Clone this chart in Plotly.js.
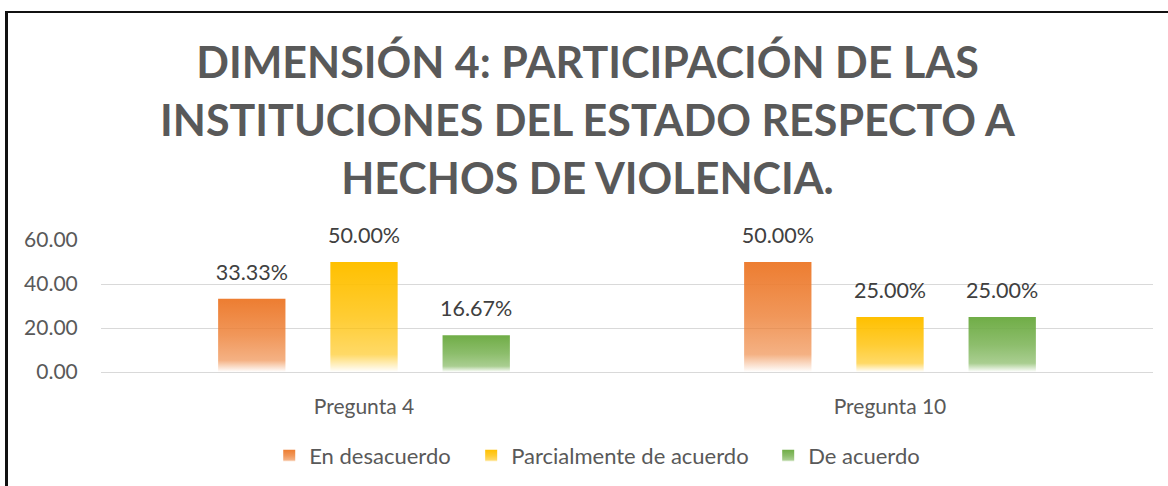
<!DOCTYPE html>
<html>
<head>
<meta charset="utf-8">
<script src="https://cdn.plot.ly/plotly-3.0.1.min.js"></script>
<style>
  html, body { margin: 0; padding: 0; background: #fff; }
  #chart { width: 1168px; height: 486px; position: absolute; left: 0; top: 0; }
  #frame { position: absolute; left: 5px; top: 11px; right: 0; bottom: 0;
           border-top: 2px solid #111; border-left: 3px solid #111; pointer-events: none; }
</style>
</head>
<body>
<div id="chart"></div>
<div id="frame"></div>
<script>
// ---- data ----
const categories = ['Pregunta 4', 'Pregunta 10'];
const seriesNames = ['En desacuerdo', 'Parcialmente de acuerdo', 'De acuerdo'];
const enDesacuerdo = [33.33, 50.00];
const parcialmenteDeAcuerdo = [50.00, 25.00];
const deAcuerdo = [16.67, 25.00];
const yTickValues = [0, 20, 40, 60];
const titleText = 'DIMENSIÓN 4: PARTICIPACIÓN DE LAS<br>INSTITUCIONES DEL ESTADO RESPECTO A<br>HECHOS DE VIOLENCIA.';

const seriesValues = [enDesacuerdo, parcialmenteDeAcuerdo, deAcuerdo];
const seriesColors = ['#ED7D31', '#FFC000', '#70AD47'];
const legendIds = ['legend', 'legend2', 'legend3'];
const legendX = [0.2305, 0.4034, 0.6577];
const FONT = 'Lato, "Open Sans", sans-serif';

const traces = [];
seriesValues.forEach((vals, i) => {
  traces.push({
    type: 'bar', name: seriesNames[i], x: categories, y: vals,
    marker: { color: seriesColors[i], line: { width: 0 } },
    legend: legendIds[i],
    hoverinfo: 'skip'
  });
});
seriesValues.forEach((vals, i) => {
  traces.push({
    type: 'scatter', mode: 'markers+text', x: categories, y: vals,
    text: vals.map(v => v.toFixed(2) + '%'),
    textposition: 'top center',
    textfont: { family: FONT, size: 21.5, color: '#404040' },
    marker: { size: 20, opacity: 0, color: seriesColors[i] },
    showlegend: false, hoverinfo: 'skip', cliponaxis: false
  });
});

const layout = {
  width: 1168, height: 486,
  paper_bgcolor: 'rgba(0,0,0,0)', plot_bgcolor: 'rgba(0,0,0,0)',
  margin: { l: 101, r: 15, t: 240, b: 114, pad: 0 },
  barmode: 'group', bargap: 0.36, bargroupgap: 0.40,
  scattermode: 'group', scattergap: 0.36,
  hovermode: false,
  font: { family: FONT, color: '#595959' },
  title: {
    text: titleText,
    font: { family: FONT, size: 43, color: '#595959', weight: 'bold' },
    x: 0.503, xanchor: 'center', xref: 'container',
    y: 0.839, yanchor: 'top', yref: 'container', automargin: false
  },
  xaxis: {
    type: 'category', showgrid: false, zeroline: false, showline: false,
    ticks: 'outside', ticklen: 16, tickcolor: 'rgba(0,0,0,0)',
    tickfont: { family: FONT, size: 21, color: '#595959' }, automargin: false
  },
  yaxis: {
    range: [0, 60], tickvals: yTickValues, ticktext: yTickValues.map(v => v.toFixed(2)),
    showgrid: true, gridcolor: '#d9d9d9', gridwidth: 1,
    zeroline: true, zerolinecolor: '#d9d9d9', zerolinewidth: 1, showline: false,
    ticks: 'outside', ticklen: 18, tickcolor: 'rgba(0,0,0,0)',
    tickfont: { family: FONT, size: 21, color: '#595959' }, automargin: false
  }
};
legendIds.forEach((id, i) => {
  layout[id] = {
    orientation: 'h', xref: 'container', yref: 'container',
    x: legendX[i], xanchor: 'left', y: 0.0617, yanchor: 'middle',
    font: { family: FONT, size: 22, color: '#595959' },
    itemwidth: 30, bgcolor: 'rgba(0,0,0,0)'
  };
});

Plotly.newPlot('chart', traces, layout, { displayModeBar: false, staticPlot: true }).then(gd => {
  const svg = gd.querySelector('.main-svg');
  const defs = svg.querySelector('defs');
  const ns = 'http://www.w3.org/2000/svg';
  seriesColors.forEach((c, i) => {
    const g = document.createElementNS(ns, 'linearGradient');
    g.setAttribute('id', 'barGrad' + i);
    g.setAttribute('x1', '0'); g.setAttribute('y1', '0');
    g.setAttribute('x2', '0'); g.setAttribute('y2', '1');
    [[0, 1], [0.5, 0.8], [0.84, 0.6], [1, 0.0]].forEach(([o, op]) => {
      const s = document.createElementNS(ns, 'stop');
      s.setAttribute('offset', o);
      s.setAttribute('stop-color', c);
      s.setAttribute('stop-opacity', op);
      g.appendChild(s);
    });
    defs.appendChild(g);
  });
  gd.querySelectorAll('.barlayer .trace').forEach((tr, i) => {
    tr.querySelectorAll('path').forEach(p => { p.style.fill = 'url(#barGrad' + i + ')'; });
  });
  legendIds.forEach((id, i) => {
    const leg = gd.querySelector('.' + id);
    if (leg) leg.querySelectorAll('.legendpoints path').forEach(p => { p.style.fill = 'url(#barGrad' + i + ')'; });
  });
  // title line spacing
  gd.querySelectorAll('.gtitle tspan.line').forEach((t, i) => { t.setAttribute('dy', (i * 58) + 'px'); });
});
</script>
</body>
</html>
